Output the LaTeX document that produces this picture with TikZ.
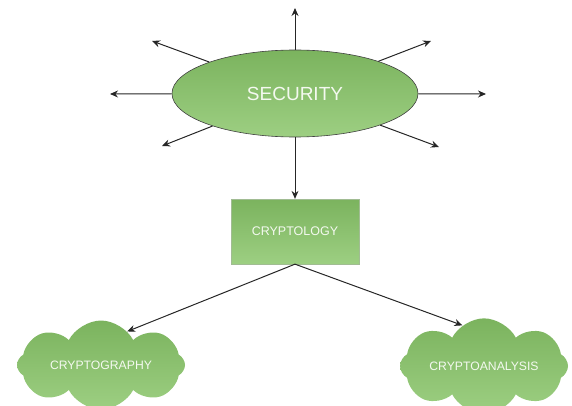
\documentclass[tikz,border=0pt]{standalone}
\usepackage{fontspec}
\setmainfont{Liberation Sans}
\usetikzlibrary{shapes.geometric,shapes.symbols,arrows.meta}
\definecolor{gtop}{HTML}{7BB35E}
\definecolor{gbot}{HTML}{9DCF82}
\definecolor{txt}{HTML}{F4F9F0}
\begin{document}
\begin{tikzpicture}[x=1pt,y=-1pt,
  greenfill/.style={top color=gtop,bottom color=gbot,text=txt},
  arr/.style={draw=black!85,line width=1pt,-{Stealth[length=8pt,width=7pt]}},
  cloudbox/.style={cloud,cloud puffs=8,cloud puff arc=125,aspect=2.4,greenfill,
     minimum width=168pt,minimum height=70pt,inner sep=0pt,font=\fontsize{12.2}{14}\selectfont}]
\useasboundingbox (0,0) rectangle (572,406);
\node[ellipse,greenfill,draw=black!75,line width=0.6pt,minimum width=246pt,minimum height=87pt,inner sep=0pt,
      font=\fontsize{19}{22}\selectfont] (sec) at (295,93.5) {SECURITY};
\node[rectangle,greenfill,draw=gtop!80!black!60,line width=0.3pt,minimum width=128pt,minimum height=65pt,inner sep=0pt,
      font=\fontsize{12.5}{14}\selectfont] (cryp) at (295,231.5) {CRYPTOLOGY};
\node[cloudbox] (graph) at (101,365) {CRYPTOGRAPHY};
\node[cloudbox] (anal) at (484,366) {CRYPTOANALYSIS};
\coordinate (eN) at (295,8);
\coordinate (eNW) at (152,41);
\coordinate (eW) at (110,94);
\coordinate (eSW) at (162,146);
\coordinate (eNE) at (431,41);
\coordinate (eE) at (486,94);
\coordinate (eSE) at (439,147);
\draw[arr] (sec) -- (eN);
\draw[arr] (sec) -- (eNW);
\draw[arr] (sec) -- (eW);
\draw[arr] (sec) -- (eSW);
\draw[arr] (sec) -- (eNE);
\draw[arr] (sec) -- (eE);
\draw[arr] (sec) -- (eSE);
\draw[arr] (sec) -- (cryp);
\draw[arr] (cryp.south) -- (graph.52);
\draw[arr] (cryp.south) -- (anal.118);
\end{tikzpicture}
\end{document}
